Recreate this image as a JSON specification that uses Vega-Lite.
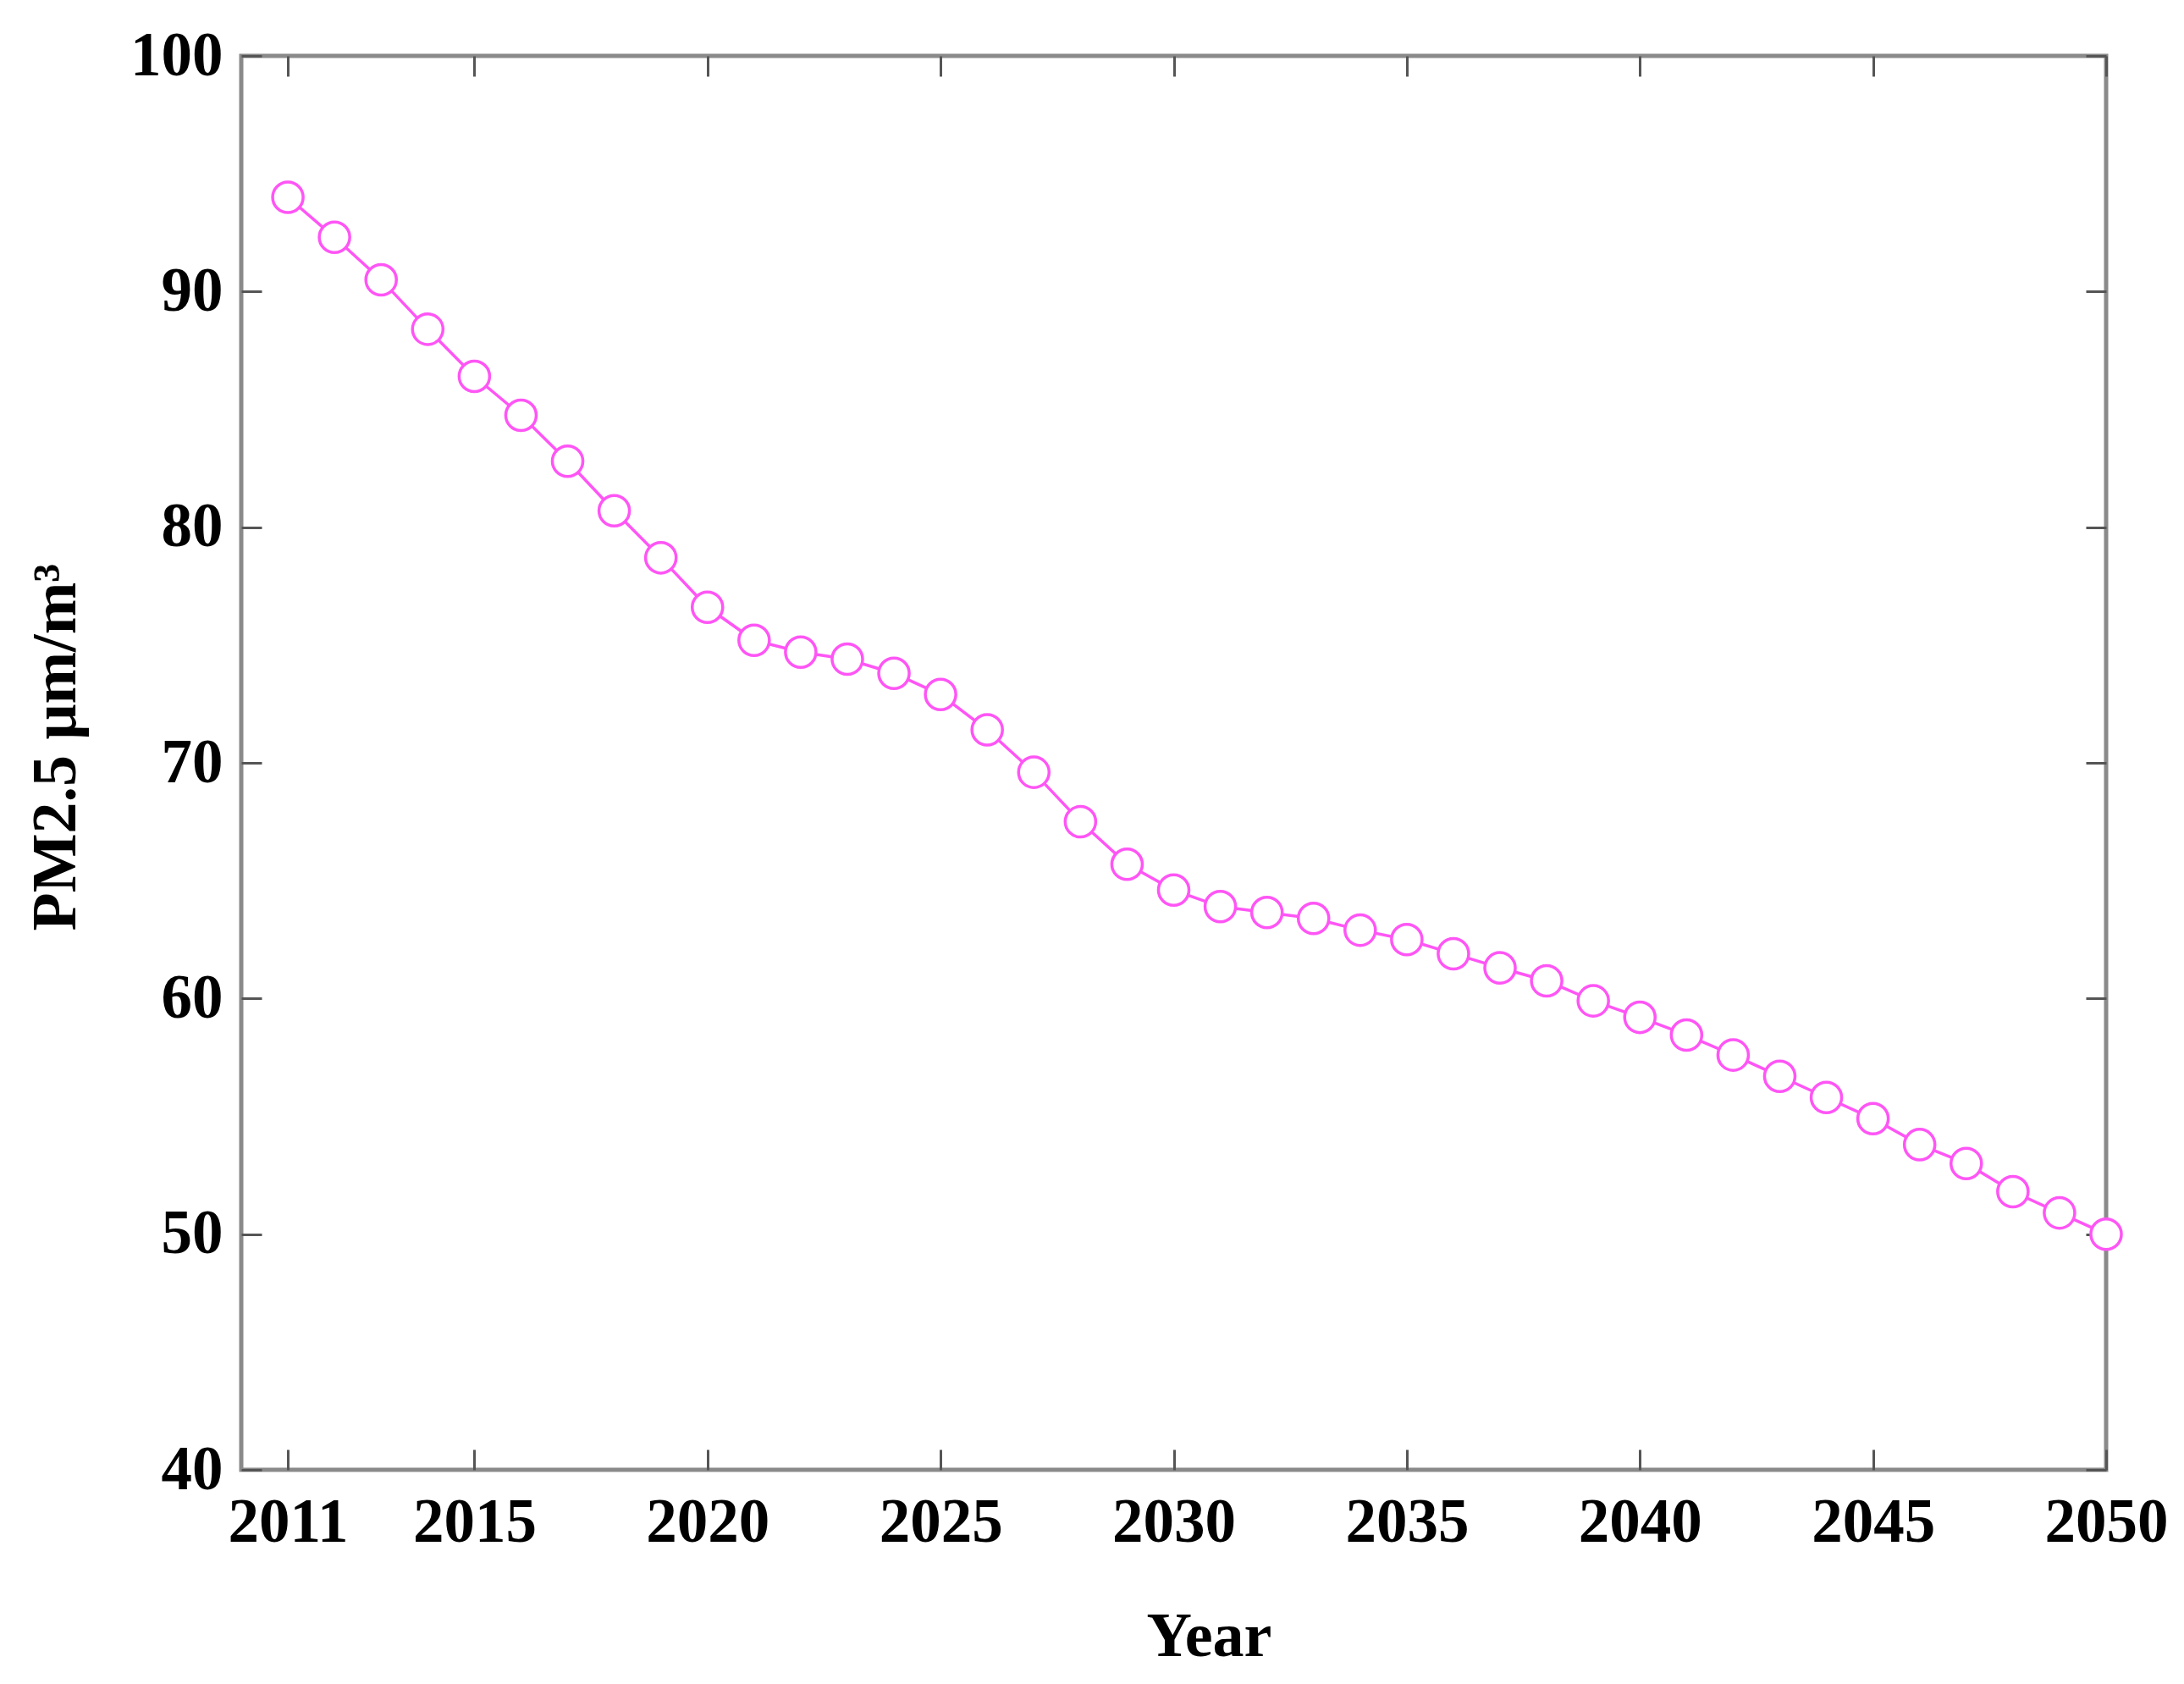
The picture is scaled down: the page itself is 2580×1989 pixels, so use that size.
{
  "$schema": "https://vega.github.io/schema/vega-lite/v6.json",
  "autosize": {"type": "none"},
  "padding": {"left": 285, "top": 66, "right": 92, "bottom": 253},
  "width": 2203,
  "height": 1670,
  "background": "white",
  "config": {
    "view": {"stroke": "#8a8a8a", "strokeWidth": 5},
    "axis": {
      "domain": false,
      "grid": false,
      "tickColor": "#555555",
      "tickWidth": 3,
      "tickSize": -24,
      "labelFont": "Liberation Serif",
      "labelFontWeight": "bold",
      "labelFontSize": 73,
      "labelColor": "black",
      "titleFont": "Liberation Serif",
      "titleFontWeight": "bold",
      "titleFontSize": 74,
      "titleColor": "black"
    }
  },
  "data": {
    "values": [
      {"year": 2011, "pm": 94.0}, {"year": 2012, "pm": 92.3}, {"year": 2013, "pm": 90.5},
      {"year": 2014, "pm": 88.4}, {"year": 2015, "pm": 86.4}, {"year": 2016, "pm": 84.75},
      {"year": 2017, "pm": 82.8}, {"year": 2018, "pm": 80.7}, {"year": 2019, "pm": 78.7},
      {"year": 2020, "pm": 76.6}, {"year": 2021, "pm": 75.2}, {"year": 2022, "pm": 74.7},
      {"year": 2023, "pm": 74.4}, {"year": 2024, "pm": 73.8}, {"year": 2025, "pm": 72.9},
      {"year": 2026, "pm": 71.4}, {"year": 2027, "pm": 69.6}, {"year": 2028, "pm": 67.5},
      {"year": 2029, "pm": 65.7}, {"year": 2030, "pm": 64.6}, {"year": 2031, "pm": 63.9},
      {"year": 2032, "pm": 63.65}, {"year": 2033, "pm": 63.4}, {"year": 2034, "pm": 62.9},
      {"year": 2035, "pm": 62.5}, {"year": 2036, "pm": 61.9}, {"year": 2037, "pm": 61.3},
      {"year": 2038, "pm": 60.75}, {"year": 2039, "pm": 59.9}, {"year": 2040, "pm": 59.2},
      {"year": 2041, "pm": 58.45}, {"year": 2042, "pm": 57.6}, {"year": 2043, "pm": 56.7},
      {"year": 2044, "pm": 55.8}, {"year": 2045, "pm": 54.9}, {"year": 2046, "pm": 53.8},
      {"year": 2047, "pm": 53.0}, {"year": 2048, "pm": 51.8}, {"year": 2049, "pm": 50.9},
      {"year": 2050, "pm": 50.0}
    ]
  },
  "resolve": {"axis": {"x": "independent", "y": "independent"}},
  "layer": [
    {
      "mark": {"type": "line", "color": "#ff55f5", "strokeWidth": 3.5},
      "encoding": {
        "x": {
          "field": "year", "type": "quantitative",
          "scale": {"domain": [2010, 2050], "nice": false, "zero": false},
          "axis": {
            "orient": "bottom",
            "values": [2011, 2015, 2020, 2025, 2030, 2035, 2040, 2045, 2050],
            "format": "d",
            "labelPadding": 50,
            "labelFlush": false,
            "labelOverlap": false,
            "title": "Year",
            "titleX": 1143,
            "titleY": 219,
            "titleAnchor": null,
            "titleAlign": "center",
            "titleBaseline": "alphabetic"
          }
        },
        "y": {
          "field": "pm", "type": "quantitative",
          "scale": {"domain": [40, 100], "nice": false, "zero": false},
          "axis": {
            "orient": "left",
            "values": [40, 50, 60, 70, 80, 90, 100],
            "labelPadding": 46,
            "labelFlush": false,
            "labelOverlap": false,
            "title": "PM2.5 μm/m³",
            "titleX": -219,
            "titleY": 816,
            "titleAngle": 270,
            "titleAlign": "center",
            "titleBaseline": "middle"
          }
        }
      }
    },
    {
      "mark": {"type": "point", "shape": "circle", "filled": true, "fill": "white", "stroke": "#ff55f5", "strokeWidth": 3.5, "size": 1300, "opacity": 1},
      "encoding": {
        "x": {"field": "year", "type": "quantitative", "axis": null},
        "y": {"field": "pm", "type": "quantitative", "axis": null}
      }
    },
    {
      "mark": {"type": "point", "opacity": 0},
      "encoding": {
        "x": {
          "field": "year", "type": "quantitative",
          "axis": {"orient": "top", "values": [2011, 2015, 2020, 2025, 2030, 2035, 2040, 2045, 2050], "labels": false, "title": null}
        },
        "y": {
          "field": "pm", "type": "quantitative",
          "axis": {"orient": "right", "values": [40, 50, 60, 70, 80, 90, 100], "labels": false, "title": null}
        }
      }
    }
  ]
}
